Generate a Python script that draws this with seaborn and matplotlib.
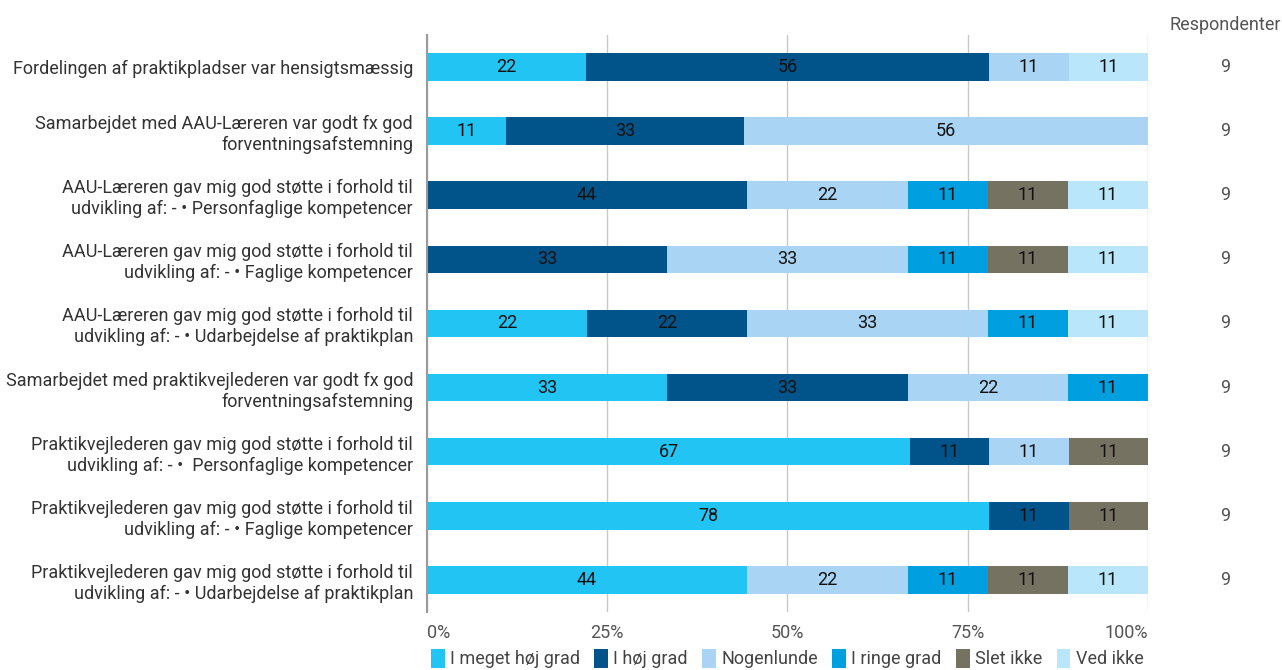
import matplotlib
matplotlib.use('Agg')
import matplotlib.pyplot as plt
from matplotlib.patches import Patch
import numpy as np
import pandas as pd
import seaborn as sns

questions = [
    'Fordelingen af praktikpladser var hensigtsmæssig',
    'Samarbejdet med AAU-Læreren var godt fx god\nforventningsafstemning',
    'AAU-Læreren gav mig god støtte i forhold til\nudvikling af: - • Personfaglige kompetencer',
    'AAU-Læreren gav mig god støtte i forhold til\nudvikling af: - • Faglige kompetencer',
    'AAU-Læreren gav mig god støtte i forhold til\nudvikling af: - • Udarbejdelse af praktikplan',
    'Samarbejdet med praktikvejlederen var godt fx god\nforventningsafstemning',
    'Praktikvejlederen gav mig god støtte i forhold til\nudvikling af: - •  Personfaglige kompetencer',
    'Praktikvejlederen gav mig god støtte i forhold til\nudvikling af: - • Faglige kompetencer',
    'Praktikvejlederen gav mig god støtte i forhold til\nudvikling af: - • Udarbejdelse af praktikplan',
]
answers = ['I meget høj grad', 'I høj grad', 'Nogenlunde', 'I ringe grad', 'Slet ikke', 'Ved ikke']

meget_hoj = [22, 11, 0, 0, 22, 33, 67, 78, 44]
hoj = [56, 33, 44, 33, 22, 33, 11, 11, 0]
nogenlunde = [11, 56, 22, 33, 33, 22, 11, 0, 22]
ringe = [0, 0, 11, 11, 11, 11, 0, 0, 11]
slet_ikke = [0, 0, 11, 11, 0, 0, 11, 11, 11]
ved_ikke = [11, 0, 11, 11, 11, 0, 0, 0, 11]
respondenter = [9, 9, 9, 9, 9, 9, 9, 9, 9]

colors = {'I meget høj grad': '#22C4F4',
          'I høj grad': '#00548A',
          'Nogenlunde': '#A9D4F4',
          'I ringe grad': '#009FE0',
          'Slet ikke': '#767262',
          'Ved ikke': '#B9E6FA'}

df = pd.DataFrame(np.array([meget_hoj, hoj, nogenlunde, ringe, slet_ikke, ved_ikke]).T,
                  columns=answers)
df['question'] = questions
vals = df[answers].to_numpy(dtype=float)
pct = vals / vals.sum(axis=1, keepdims=True) * 100
cum = np.cumsum(pct, axis=1)

sns.set_theme(style='white')
plt.rcParams['font.family'] = ['Roboto', 'DejaVu Sans']
fs = 13

fig = plt.figure(figsize=(12.82, 6.70), dpi=100)
ax = fig.add_axes([0.333, 0.0866, 0.5625, 0.8612])

# draw cumulative totals from last to first so each layer covers the next
for j in range(len(answers) - 1, -1, -1):
    sns.barplot(x=cum[:, j], y=df['question'], orient='h', color=colors[answers[j]],
                saturation=1, width=0.43, ax=ax, linewidth=0)

for i in range(len(questions)):
    for j in range(len(answers)):
        if vals[i, j] > 0:
            ax.text(cum[i, j] - pct[i, j] / 2, i, f'{int(vals[i, j])}', ha='center', va='center',
                    fontsize=fs, color='#111111')
    ax.text(1.107, i, str(respondenter[i]), transform=ax.get_yaxis_transform(),
            ha='center', va='center', fontsize=fs, color='#555555')

ax.text(1.107, 1.017, 'Respondenter', transform=ax.transAxes, ha='center', va='center',
        fontsize=fs, color='#555555')

ax.set_xlim(0, 100)
ax.set_ylim(8.5, -0.5)
ax.set_xlabel('')
ax.set_ylabel('')
ax.set_xticks([0, 25, 50, 75, 100])
ax.set_xticklabels(['0%', '25%', '50%', '75%', '100%'], fontsize=fs, color='#555555')
for lab, ha in zip(ax.get_xticklabels(), ['left', 'center', 'center', 'center', 'right']):
    lab.set_ha(ha)
ax.tick_params(axis='x', length=0, pad=9)
ax.tick_params(axis='y', length=0, pad=10, labelsize=fs, labelcolor='#333333')
ax.xaxis.grid(True, color='#c8c8c8', linewidth=1)
ax.set_axisbelow(True)
for s in ['top', 'right', 'bottom']:
    ax.spines[s].set_visible(False)
ax.spines['left'].set_color('#9a9a9a')
ax.spines['left'].set_linewidth(1.5)

handles = [Patch(facecolor=colors[a], edgecolor='none') for a in answers]
fig.legend(handles, answers, loc='lower center', bbox_to_anchor=(0.614, -0.022), ncol=6,
           frameon=False, fontsize=fs, handlelength=0.75, handleheight=1.2, handletextpad=0.3,
           columnspacing=0.8, labelcolor='#444444')

fig.savefig('out.png', dpi=100)
